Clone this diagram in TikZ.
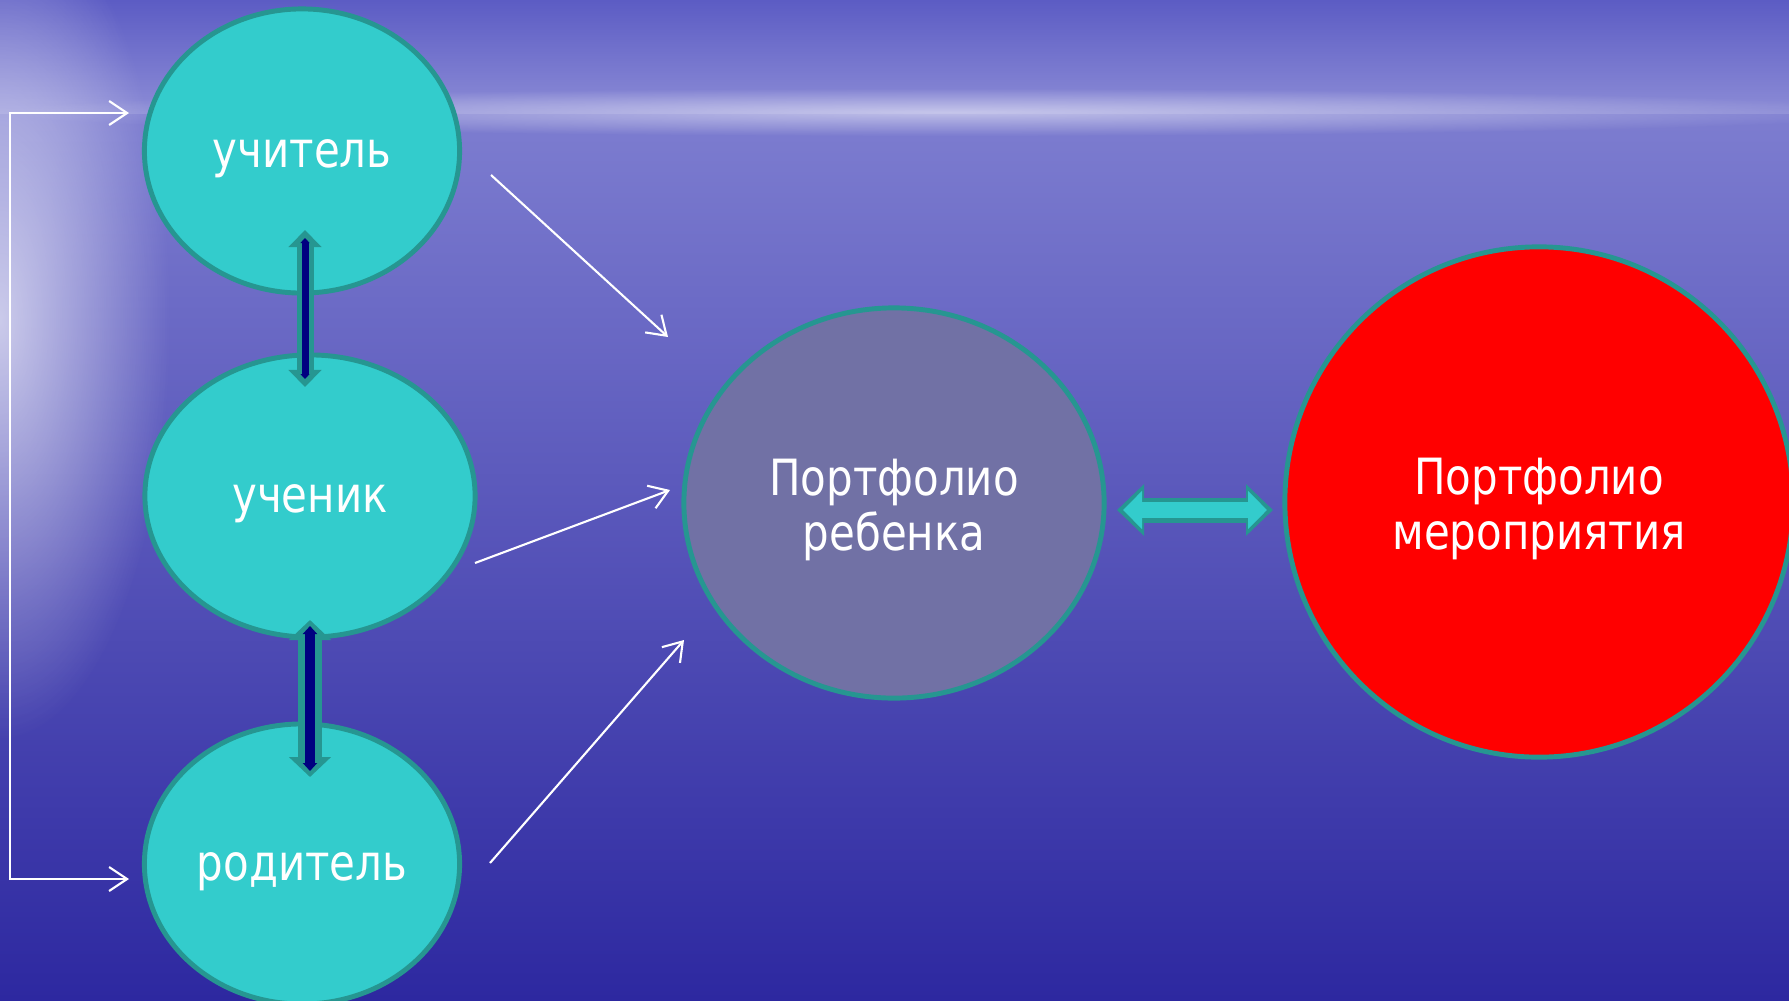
\documentclass[tikz,border=0pt]{standalone}
\usepackage{fontspec}
\setmainfont{DejaVu Sans}[FakeStretch=0.84]
\usepackage{tikz}
\usetikzlibrary{shapes.geometric}
\usetikzlibrary{arrows.meta}
\usetikzlibrary{fadings}

\definecolor{rolefill}{RGB}{51,204,204}
\definecolor{roleedge}{RGB}{38,150,145}
\definecolor{childfill}{RGB}{113,113,165}
\definecolor{darknavy}{RGB}{0,0,128}
\definecolor{skytop}{RGB}{92,92,196}
\definecolor{skylow}{RGB}{140,140,214}
\definecolor{seatop}{RGB}{125,125,208}
\definecolor{seamid}{RGB}{70,66,186}
\definecolor{seabot}{RGB}{45,40,160}

\tikzfading[name=glow, inner color=transparent!0, outer color=transparent!100]

\begin{document}
\begin{tikzpicture}[x=0.01cm,y=-0.01cm,
    role/.style={ellipse,draw=roleedge,line width=1.4pt,fill=rolefill,text=white,
      inner sep=0pt,text height=1.2em,text depth=0.25em,font=\fontsize{14.2}{17}\selectfont},
    folio/.style={ellipse,draw=roleedge,line width=1.4pt,text=white,align=center,
      inner sep=0pt,text depth=0pt,font=\fontsize{14.2}{15.6}\selectfont},
    feed/.style={white,line width=0.6pt,-{Straight Barb[length=0.18cm,width=0.24cm]}}]
    \useasboundingbox (0,0) rectangle (1789,1000);
    \shade[top color=skytop,bottom color=skylow] (0,0) rectangle (1789,114);
    \shade[top color=seatop,middle color=seamid,bottom color=seabot] (0,114) rectangle (1789,1000);
    \fill[white,opacity=0.5,path fading=glow] (950,112) ellipse (950 and 24);
    \fill[white,opacity=0.65,path fading=glow] (0,320) ellipse (170 and 420);

    \node[role,minimum width=3.15cm,minimum height=2.84cm] (teacher) at (302,151) {учитель};
    \node[role,minimum width=3.30cm,minimum height=2.82cm] (pupil) at (310,496) {ученик};
    \node[role,minimum width=3.15cm,minimum height=2.80cm] (parent) at (302,864) {родитель};
    \node[folio,fill=childfill,minimum width=4.20cm,minimum height=3.90cm] (child) at (894,503) {\rule{0pt}{11.5pt}Портфолио\\ребенка};
    \node[folio,fill=red,minimum width=5.08cm,minimum height=5.10cm] (event) at (1539,502) {\rule{0pt}{11.5pt}Портфолио\\мероприятия};

    \coordinate (tp1) at (305,230);
    \coordinate (tp2) at (305,387);
    \coordinate (pp1) at (310,620);
    \coordinate (pp2) at (310,777);
    \coordinate (ce1) at (1117,510);
    \coordinate (ce2) at (1273,510);
    \draw[roleedge,line width=0.17cm,{Triangle[length=0.17cm,width=0.32cm]}-{Triangle[length=0.17cm,width=0.32cm]}] (tp1) -- (tp2);
    \draw[darknavy,line width=0.07cm,shorten <=0.08cm,shorten >=0.08cm,{Triangle[length=0.05cm,width=0.09cm]}-{Triangle[length=0.05cm,width=0.09cm]}] (tp1) -- (tp2);
    \draw[roleedge,line width=0.23cm,{Triangle[length=0.2cm,width=0.41cm]}-{Triangle[length=0.2cm,width=0.41cm]}] (pp1) -- (pp2);
    \draw[darknavy,line width=0.1cm,shorten <=0.06cm,shorten >=0.06cm,{Triangle[length=0.08cm,width=0.14cm]}-{Triangle[length=0.08cm,width=0.14cm]}] (pp1) -- (pp2);
    \draw[roleedge,line width=0.25cm,{Triangle[length=0.27cm,width=0.5cm]}-{Triangle[length=0.27cm,width=0.5cm]}] (ce1) -- (ce2);
    \draw[rolefill,line width=0.16cm,shorten <=0.06cm,shorten >=0.06cm,{Triangle[length=0.19cm,width=0.37cm]}-{Triangle[length=0.19cm,width=0.37cm]}] (ce1) -- (ce2);

    \coordinate (up) at (129,113);
    \coordinate (down) at (129,879);
    \draw[feed,{Straight Barb[length=0.18cm,width=0.24cm]}-{Straight Barb[length=0.18cm,width=0.24cm]}] (up) -- (10,113) -- (10,879) -- (down);
    \coordinate (t0) at (491,175);
    \coordinate (t1) at (668,337);
    \coordinate (s0) at (475,563);
    \coordinate (s1) at (670,490);
    \coordinate (r0) at (490,863);
    \coordinate (r1) at (684,640);
    \draw[feed] (t0) -- (t1);
    \draw[feed] (s0) -- (s1);
    \draw[feed] (r0) -- (r1);
\end{tikzpicture}
\end{document}
